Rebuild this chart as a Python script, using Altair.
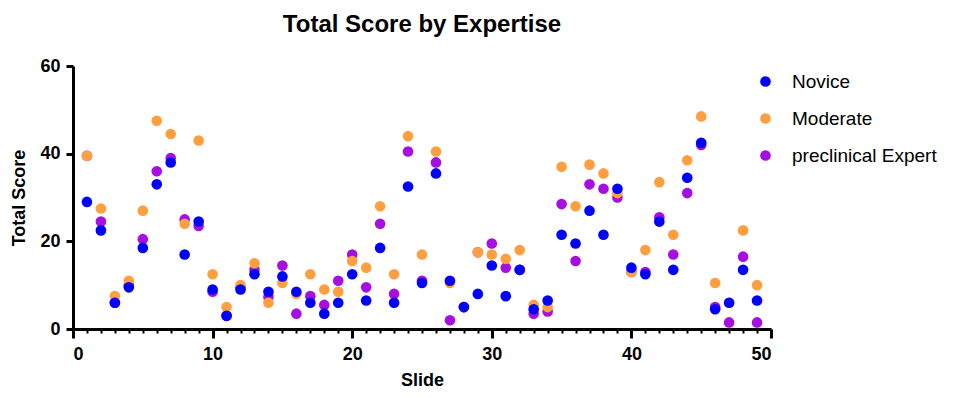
import altair as alt
import pandas as pd

slides = list(range(1, 50))

novice = [29, 22.5, 6, 9.5, 18.5, 33, 38, 17, 24.5, 9,
          3, 9, 12.5, 8.5, 12, 8.5, 6, 3.5, 6, 12.5,
          6.5, 18.5, 6, 32.5, 10.5, 35.5, 11, 5, 8, 14.5,
          7.5, 13.5, 4.5, 6.5, 21.5, 19.5, 27, 21.5, 32, 14,
          12.5, 24.5, 13.5, 34.5, 42.5, 4.5, 6, 13.5, 6.5]

moderate = [39.5, 27.5, 7.5, 11, 27, 47.5, 44.5, 24, 43, 12.5,
            5, 10, 15, 6, 10.5, 8, 12.5, 9, 8.5, 15.5,
            14, 28, 12.5, 44, 17, 40.5, 10.5, 5, 17.5, 17,
            16, 18, 5.5, 5, 37, 28, 37.5, 35.5, 31, 13,
            18, 33.5, 21.5, 38.5, 48.5, 10.5, 6, 22.5, 10]

expert = [39.5, 24.5, 6, 10, 20.5, 36, 39, 25, 23.5, 8.5,
          3, 9.5, 13.5, 7.3, 14.5, 3.5, 7.5, 5.5, 11, 17,
          9.5, 24, 8, 40.5, 11, 38, 2, 5, 17.5, 19.5,
          14, 13.5, 3.5, 4, 28.5, 15.5, 33, 32, 30, 13,
          13, 25.5, 17, 31, 42, 5, 1.5, 16.5, 1.5]

groups = ["Novice", "Moderate", "preclinical Expert"]
colors = ["#0000FF", "#FF9F40", "#A60FDF"]

x_ticks = list(range(0, 51))
y_ticks = [0, 20, 40, 60]

rows = []
k = 0
for g, vals in [("preclinical Expert", expert), ("Moderate", moderate), ("Novice", novice)]:
    for s, v in zip(slides, vals):
        rows.append({"Slide": s, "Score": v, "Group": g, "ord": k})
        k += 1
df = pd.DataFrame(rows)

FONT = "Liberation Sans"
major = "datum.value % 10 === 0"

points = alt.Chart(df).mark_circle(size=113, opacity=1).encode(
    x=alt.X("Slide:Q", scale=alt.Scale(domain=[0, 50], nice=False, zero=False),
            axis=alt.Axis(values=x_ticks, title="Slide", grid=False,
                          labelExpr="datum.value % 10 === 0 ? datum.label : ''",
                          tickSize={"condition": {"test": major, "value": 9}, "value": 4},
                          tickWidth={"condition": {"test": major, "value": 3}, "value": 2},
                          tickColor="black", domainWidth=3, domainColor="black",
                          labelFont=FONT, labelFontSize=18, labelFontWeight="bold",
                          labelColor="black", labelPadding=7, labelOverlap=False,
                          titleFont=FONT, titleFontSize=18, titleFontWeight="bold",
                          titleColor="black", titlePadding=8)),
    y=alt.Y("Score:Q", scale=alt.Scale(domain=[0, 60], nice=False, zero=False),
            axis=alt.Axis(values=y_ticks, title="Total Score", grid=False,
                          tickSize=7, tickWidth=3, tickColor="black",
                          domainWidth=3, domainColor="black",
                          labelFont=FONT, labelFontSize=18, labelFontWeight="bold",
                          labelColor="black", labelPadding=6,
                          titleFont=FONT, titleFontSize=18, titleFontWeight="bold",
                          titleColor="black", titlePadding=11)),
    color=alt.Color("Group:N", scale=alt.Scale(domain=groups, range=colors),
                    legend=alt.Legend(title=None, orient="none", legendX=683, legendY=6,
                                      symbolType="circle", symbolSize=113,
                                      labelFont=FONT, labelFontSize=19, labelColor="black",
                                      labelOffset=17, rowPadding=17, padding=0)),
    order=alt.Order("ord:Q"),
).properties(
    width=698,
    height=263,
    autosize=alt.AutoSizeParams(type="none"),
    padding={"left": 65, "top": 58, "right": 174, "bottom": 61},
    title=alt.TitleParams("Total Score by Expertise", font=FONT, fontSize=24,
                          fontWeight="bold", color="black", anchor="middle", offset=20),
)

chart = points.configure_view(stroke=None)

chart.save("out.html", embed_options={"renderer": "svg", "actions": False})
